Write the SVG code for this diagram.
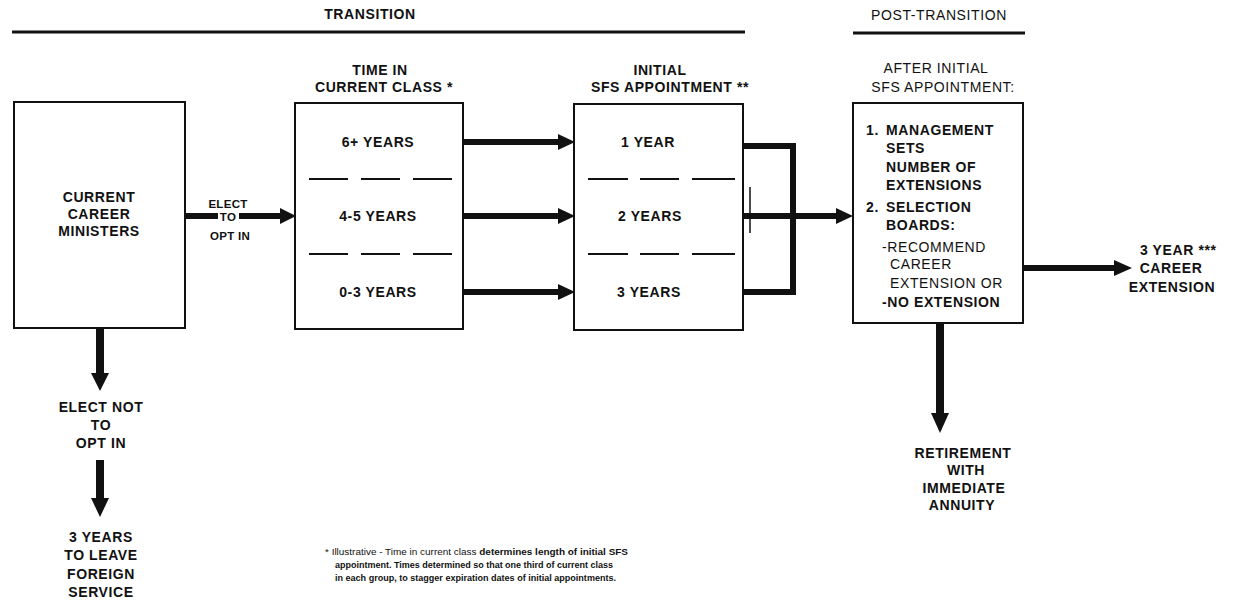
<svg xmlns="http://www.w3.org/2000/svg" width="1238" height="602" viewBox="0 0 1238 602">
<defs>
<style>
text{font-family:"Liberation Sans",Arial,sans-serif;fill:#111;}
.b{font-size:14px;font-weight:bold;letter-spacing:0.6px;}
.r{font-size:14px;font-weight:normal;letter-spacing:0.6px;}
.s{font-size:11.5px;font-weight:bold;letter-spacing:0.3px;}
.c{text-anchor:middle;}
.box{fill:#fff;stroke:#111;stroke-width:2;}
.rule{stroke:#111;stroke-width:3;}
.dash{stroke:#111;stroke-width:2;}
.shaft{stroke:#111;stroke-width:6;fill:none;}
.head{fill:#111;}
.fn{font-size:8.6px;}
</style>
</defs>

<g id="headers">
<text class="b c" x="370" y="19">TRANSITION</text>
<line class="rule" x1="12" y1="32" x2="745" y2="32"/>
<text class="r c" x="939" y="20">POST-TRANSITION</text>
<line class="rule" x1="853" y1="33" x2="1025" y2="33"/>
</g>

<g id="connectors">
<line class="shaft" x1="185" y1="216" x2="282" y2="216"/>
<polygon class="head" points="280,208 296,216 280,224"/>
<line class="shaft" x1="463" y1="142" x2="560" y2="142"/>
<polygon class="head" points="558,134 575,142 558,150"/>
<line class="shaft" x1="463" y1="216" x2="560" y2="216"/>
<polygon class="head" points="558,208 575,216 558,224"/>
<line class="shaft" x1="463" y1="292" x2="560" y2="292"/>
<polygon class="head" points="558,284 575,292 558,300"/>
<polyline class="shaft" points="743,146 793,146 793,292 743,292"/>
<line class="shaft" x1="743" y1="216" x2="838" y2="216"/>
<polygon class="head" points="836,208 853,216 836,224"/>
<line stroke="#111" stroke-width="1.5" x1="750" y1="187" x2="750" y2="233"/>
<line class="shaft" x1="1023" y1="268" x2="1116" y2="268"/>
<polygon class="head" points="1114,260 1132,268 1114,276"/>
<line class="shaft" x1="100" y1="329" x2="100" y2="375" style="stroke-width:8"/>
<polygon class="head" points="91,373 109,373 100,391"/>
<line class="shaft" x1="100" y1="460" x2="100" y2="500" style="stroke-width:8"/>
<polygon class="head" points="91,498 109,498 100,517"/>
<line class="shaft" x1="940" y1="323" x2="940" y2="415" style="stroke-width:8"/>
<polygon class="head" points="931,413 949,413 940,433"/>
</g>

<g id="node-ministers">
<rect class="box" x="14" y="102" width="171" height="226"/>
<text class="b c" x="99" y="202">CURRENT</text>
<text class="b c" x="99" y="219">CAREER</text>
<text class="b c" x="99" y="236">MINISTERS</text>
</g>

<g id="label-elect">
<text class="s c" x="228" y="208">ELECT</text>
<rect x="218" y="211" width="21" height="10" fill="#fff"/>
<text class="s c" x="228" y="220.5">TO</text>
<text class="s c" x="230" y="240">OPT IN</text>
</g>

<g id="node-time">
<text class="b c" x="380" y="75">TIME IN</text>
<text class="b c" x="384" y="92">CURRENT CLASS *</text>
<rect class="box" x="295" y="103" width="168" height="226"/>
<text class="b c" x="378" y="147">6+ YEARS</text>
<line class="dash" x1="309" y1="179" x2="348" y2="179"/>
<line class="dash" x1="361" y1="179" x2="400" y2="179"/>
<line class="dash" x1="413" y1="179" x2="452" y2="179"/>
<text class="b c" x="378" y="221">4-5 YEARS</text>
<line class="dash" x1="309" y1="254" x2="348" y2="254"/>
<line class="dash" x1="361" y1="254" x2="400" y2="254"/>
<line class="dash" x1="413" y1="254" x2="452" y2="254"/>
<text class="b c" x="378" y="297">0-3 YEARS</text>
</g>

<g id="node-initial">
<text class="b c" x="660" y="75">INITIAL</text>
<text class="b c" x="670" y="92">SFS APPOINTMENT **</text>
<rect class="box" x="574" y="104" width="169" height="226"/>
<text class="b c" x="648" y="147">1 YEAR</text>
<line class="dash" x1="588" y1="179" x2="628" y2="179"/>
<line class="dash" x1="640" y1="179" x2="679" y2="179"/>
<line class="dash" x1="692" y1="179" x2="735" y2="179"/>
<text class="b c" x="650" y="221">2 YEARS</text>
<line class="dash" x1="588" y1="254" x2="628" y2="254"/>
<line class="dash" x1="640" y1="254" x2="679" y2="254"/>
<line class="dash" x1="692" y1="254" x2="735" y2="254"/>
<text class="b c" x="649" y="297">3 YEARS</text>
</g>

<g id="node-after">
<text class="r c" x="936" y="73">AFTER INITIAL</text>
<text class="r c" x="943" y="92">SFS APPOINTMENT:</text>
<rect class="box" x="853" y="103" width="170" height="220"/>
<text class="b" x="866" y="135">1.</text>
<text class="b" x="886" y="135">MANAGEMENT</text>
<text class="b" x="886" y="153">SETS</text>
<text class="b" x="886" y="172">NUMBER OF</text>
<text class="b" x="886" y="190">EXTENSIONS</text>
<text class="b" x="866" y="212">2.</text>
<text class="b" x="886" y="212">SELECTION</text>
<text class="b" x="886" y="230">BOARDS:</text>
<text class="r" x="882" y="252">-RECOMMEND</text>
<text class="r" x="890" y="269">CAREER</text>
<text class="r" x="890" y="288">EXTENSION OR</text>
<text class="b" x="882" y="307">-NO EXTENSION</text>
</g>

<g id="node-extension">
<text class="b" x="1140" y="255">3 YEAR ***</text>
<text class="b c" x="1171" y="273">CAREER</text>
<text class="b c" x="1172" y="292">EXTENSION</text>
</g>

<g id="node-retirement">
<text class="b c" x="963" y="458">RETIREMENT</text>
<text class="b c" x="966" y="475">WITH</text>
<text class="b c" x="964" y="493">IMMEDIATE</text>
<text class="b c" x="962" y="510">ANNUITY</text>
</g>

<g id="node-not-opt">
<text class="b c" x="101" y="412">ELECT NOT</text>
<text class="b c" x="101" y="430">TO</text>
<text class="b c" x="101" y="448">OPT IN</text>
</g>

<g id="node-leave">
<text class="b c" x="101" y="542">3 YEARS</text>
<text class="b c" x="101" y="560">TO LEAVE</text>
<text class="b c" x="101" y="579">FOREIGN</text>
<text class="b c" x="101" y="597">SERVICE</text>
</g>

<g id="footnote">
<text class="fn" x="325" y="555" textLength="303" lengthAdjust="spacingAndGlyphs">* Illustrative - Time in current class <tspan font-weight="bold">determines length of initial SFS</tspan></text>
<text class="fn" x="335" y="568" font-weight="bold" textLength="278" lengthAdjust="spacingAndGlyphs">appointment. Times determined so that one third of current class</text>
<text class="fn" x="335" y="581" font-weight="bold" textLength="281" lengthAdjust="spacingAndGlyphs">in each group, to stagger expiration dates of initial appointments.</text>
</g>
</svg>
